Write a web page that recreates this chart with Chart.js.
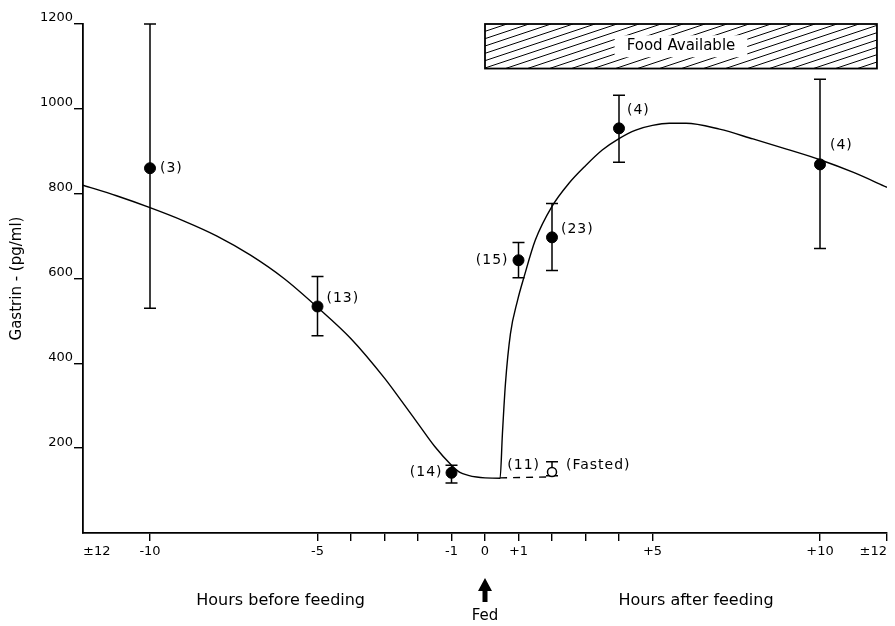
<!DOCTYPE html>
<html>
<head>
<meta charset="utf-8">
<script src="https://cdn.jsdelivr.net/npm/chart.js@4/dist/chart.umd.min.js"></script>
<style>body{margin:0;background:#fff}</style>
</head>
<body>
<canvas id="myChart" width="895" height="626"></canvas>
<script>
const fontFamily = "'DejaVu Sans', 'Liberation Sans', sans-serif";

// fed animals: mean gastrin and range, n in brackets
const fedHours = [-10, -5, -1, 1, 2, 4, 10];
const fedGastrin = [860, 534, 142, 643, 697, 954, 869];
const fedLow = [530, 465, 118, 602, 619, 874, 671];
const fedHigh = [1200, 605, 160, 685, 777, 1032, 1070];
const fedN = ['(3)', '(13)', '(14)', '(15)', '(23)', '(4)', '(4)'];

// fasted controls
const fastedHours = [2];
const fastedGastrin = [144];
const fastedLow = [135];
const fastedHigh = [168];
const fastedN = ['(11)'];

// fitted curve
const curveHours = [-12, -11, -10, -9, -8, -7, -6, -5, -4, -3, -2.5, -2, -1.5, -1, -0.75, -0.5, -0.25, 0, 0.45, 0.52, 0.61, 0.76, 0.97, 1.17, 1.5, 2, 2.5, 3, 3.5, 4, 4.5, 5, 5.5, 6, 7, 8, 9, 10, 11, 12];
const curveGastrin = [820, 795, 767, 736, 700, 655, 600, 532, 458, 365, 312, 258, 204, 160, 143, 136, 132, 130, 129, 234, 352, 470, 548, 605, 690, 770, 824, 866, 903, 930, 950, 961, 966, 966, 952, 929, 905, 880, 850, 815];

// dashed fasted line
const fastedLineHours = [0.45, 1.85];
const fastedLineGastrin = [130, 132];

// food available bar
const foodHours = [0, 11.7];
const foodGastrin = [1095, 1200];

// axis ticks
const xTickValues = [-12, -10, -5, -4, -3, -2, -1, 0, 1, 2, 3, 4, 5, 10, 12];
const xTickLabels = ['\u00b112', '-10', '-5', '', '', '', '-1', '0', '+1', '', '', '', '+5', '+10', '\u00b112'];
const yTickValues = [0, 200, 400, 600, 800, 1000, 1200];

const toPoints = (xs, ys) => xs.map((x, i) => ({ x: x, y: ys[i] }));

const errorBars = {
    id: 'errorBars',
    beforeDatasetsDraw(chart) {
        const ctx = chart.ctx;
        const xs = chart.scales.x, ys = chart.scales.y;
        const draw = (hours, low, high, width) => {
            hours.forEach((h, i) => {
                const px = xs.getPixelForValue(h);
                const top = ys.getPixelForValue(high[i]);
                const bot = ys.getPixelForValue(low[i]);
                ctx.beginPath();
                ctx.lineWidth = width;
                ctx.moveTo(px, top); ctx.lineTo(px, bot);
                ctx.moveTo(px - 6, top); ctx.lineTo(px + 6, top);
                ctx.moveTo(px - 6, bot); ctx.lineTo(px + 6, bot);
                ctx.stroke();
            });
        };
        ctx.save();
        ctx.strokeStyle = '#000';
        draw(fedHours, fedLow, fedHigh, 1.5);
        draw(fastedHours, fastedLow, fastedHigh, 1.5);
        ctx.restore();
    },
    afterDatasetsDraw(chart) {
        const ctx = chart.ctx;
        const xs = chart.scales.x, ys = chart.scales.y;
        const offsets = [[10, 0, 'left'], [9, -8, 'left'], [-9, 0, 'right'], [-10, 0, 'right'], [9, -8, 'left'], [8, -18, 'left'], [10, -19, 'left']];
        ctx.save();
        ctx.fillStyle = '#000';
        ctx.font = '14px ' + fontFamily;
        ctx.letterSpacing = '1px';
        ctx.textBaseline = 'middle';
        fedHours.forEach((h, i) => {
            const o = offsets[i];
            ctx.textAlign = o[2];
            ctx.fillText(fedN[i], xs.getPixelForValue(h) + o[0], ys.getPixelForValue(fedGastrin[i]) + o[1]);
        });
        const fx = xs.getPixelForValue(fastedHours[0]);
        const fy = ys.getPixelForValue(fastedGastrin[0]);
        ctx.textAlign = 'right';
        ctx.fillText(fastedN[0], fx - 12, fy - 7);
        ctx.textAlign = 'left';
        ctx.fillText('(Fasted)', fx + 14, fy - 7);
        ctx.restore();
    },
    afterDraw(chart) {
        const ctx = chart.ctx;
        const xs = chart.scales.x, ys = chart.scales.y;
        // hatched food box
        const x0 = xs.getPixelForValue(foodHours[0]), x1 = xs.getPixelForValue(foodHours[1]);
        const y0 = ys.getPixelForValue(foodGastrin[1]), y1 = ys.getPixelForValue(foodGastrin[0]);
        const w = x1 - x0, h = y1 - y0;
        ctx.save();
        ctx.beginPath();
        ctx.rect(x0, y0, w, h);
        ctx.clip();
        ctx.strokeStyle = '#000';
        ctx.lineWidth = 1;
        ctx.beginPath();
        for (let i = -h * 3; i < w; i += 22) {
            ctx.moveTo(x0 + i, y1);
            ctx.lineTo(x0 + i + h * 3, y0);
        }
        ctx.stroke();
        const cx = (x0 + x1) / 2, cy = (y0 + y1) / 2;
        ctx.font = '15px ' + fontFamily;
        const tw = ctx.measureText('Food Available').width;
        ctx.fillStyle = '#fff';
        ctx.fillRect(cx - tw / 2 - 12, cy - 11, tw + 24, 22);
        ctx.fillStyle = '#000';
        ctx.textAlign = 'center';
        ctx.textBaseline = 'middle';
        ctx.fillText('Food Available', cx, cy);
        ctx.restore();
        ctx.save();
        ctx.strokeStyle = '#000';
        ctx.lineWidth = 1.8;
        ctx.strokeRect(x0, y0, w, h);
        ctx.restore();

        // captions under the axis
        ctx.save();
        ctx.fillStyle = '#000';
        ctx.font = '16px ' + fontFamily;
        ctx.textAlign = 'center';
        ctx.textBaseline = 'middle';
        ctx.fillText('Hours before feeding', xs.getPixelForValue(-6.1), 601);
        ctx.fillText('Hours after feeding', xs.getPixelForValue(6.3), 601);
        const ax = xs.getPixelForValue(0);
        ctx.beginPath();
        ctx.moveTo(ax, 578);
        ctx.lineTo(ax + 7, 591);
        ctx.lineTo(ax + 2.5, 591);
        ctx.lineTo(ax + 2.5, 602);
        ctx.lineTo(ax - 2.5, 602);
        ctx.lineTo(ax - 2.5, 591);
        ctx.lineTo(ax - 7, 591);
        ctx.closePath();
        ctx.fill();
        ctx.font = '15px ' + fontFamily;
        ctx.fillText('Fed', ax, 616);
        ctx.restore();
    }
};

const ctx = document.getElementById('myChart').getContext('2d');
const myChart = new Chart(ctx, {
    type: 'scatter',
    data: {
        datasets: [
            {
                label: 'curve',
                type: 'line',
                data: toPoints(curveHours, curveGastrin),
                borderColor: '#000',
                borderWidth: 1.4,
                pointRadius: 0,
                cubicInterpolationMode: 'monotone',
                fill: false
            },
            {
                label: 'fasted line',
                type: 'line',
                data: toPoints(fastedLineHours, fastedLineGastrin),
                borderColor: '#000',
                borderWidth: 1.4,
                borderDash: [7, 6],
                pointRadius: 0,
                fill: false
            },
            {
                label: 'fed',
                data: toPoints(fedHours, fedGastrin),
                backgroundColor: '#000',
                borderColor: '#000',
                pointRadius: 5.5
            },
            {
                label: 'fasted',
                data: toPoints(fastedHours, fastedGastrin),
                backgroundColor: '#fff',
                borderColor: '#000',
                borderWidth: 1.5,
                pointRadius: 4.5
            }
        ]
    },
    options: {
        responsive: false,
        animation: false,
        devicePixelRatio: 1,
        layout: { padding: { top: 24, right: 8, left: 0, bottom: 0 } },
        plugins: {
            legend: { display: false },
            tooltip: { enabled: false }
        },
        scales: {
            x: {
                type: 'linear',
                min: -12,
                max: 12,
                afterBuildTicks: (scale) => { scale.ticks = xTickValues.map(v => ({ value: v })); },
                afterFit: (scale) => { scale.height = 93; scale.paddingRight = 0; scale.paddingLeft = 0; },
                ticks: {
                    autoSkip: false,
                    maxRotation: 0,
                    align: 'inner',
                    padding: 3,
                    color: '#000',
                    font: { family: fontFamily, size: 13 },
                    callback: (value) => xTickLabels[xTickValues.indexOf(value)]
                },
                grid: {
                    drawOnChartArea: false,
                    tickLength: 8,
                    lineWidth: 1.4,
                    color: (c) => (c.tick && c.tick.value === -12) ? 'rgba(0,0,0,0)' : '#000'
                },
                border: { display: true, color: '#000', width: 1.8 }
            },
            y: {
                type: 'linear',
                min: 0,
                max: 1200,
                afterBuildTicks: (scale) => { scale.ticks = yTickValues.map(v => ({ value: v })); },
                afterFit: (scale) => { scale.width = 83; },
                ticks: {
                    padding: 1,
                    labelOffset: -6,
                    color: '#000',
                    font: { family: fontFamily, size: 13 },
                    callback: (value) => value === 0 ? '' : String(value)
                },
                grid: {
                    drawOnChartArea: false,
                    tickLength: 9,
                    lineWidth: 1.4,
                    color: (c) => (c.tick && c.tick.value === 0) ? 'rgba(0,0,0,0)' : '#000'
                },
                border: { display: true, color: '#000', width: 1.8 },
                title: {
                    display: true,
                    text: 'Gastrin - (pg/ml)',
                    color: '#000',
                    padding: { top: 8, bottom: 0 },
                    font: { family: fontFamily, size: 15 }
                }
            }
        }
    },
    plugins: [errorBars]
});
</script>
</body>
</html>
